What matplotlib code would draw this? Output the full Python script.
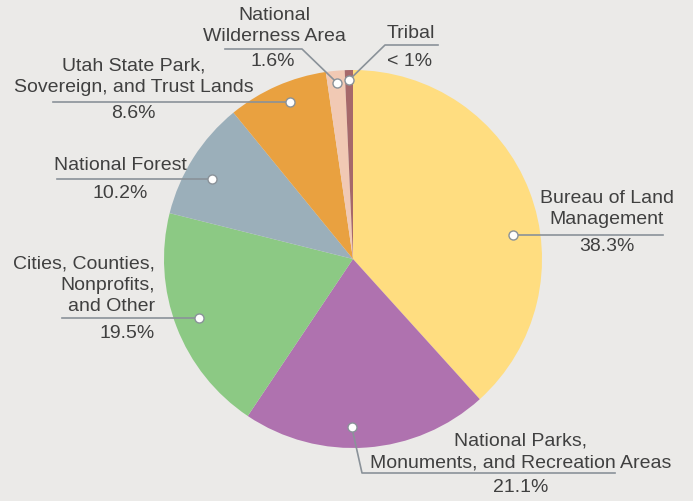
import numpy as np
import matplotlib.pyplot as plt

plt.rcParams['font.family'] = ['Liberation Sans', 'DejaVu Sans']

# data
owners = ['Bureau of Land\nManagement',
          'National Parks,\nMonuments, and Recreation Areas',
          'Cities, Counties,\nNonprofits,\nand Other',
          'National Forest',
          'Utah State Park,\nSovereign, and Trust Lands',
          'National\nWilderness Area',
          'Tribal']
shares = [38.3, 21.1, 19.5, 10.2, 8.6, 1.6, 0.7]
share_labels = ['38.3%', '21.1%', '19.5%', '10.2%', '8.6%', '1.6%', '< 1%']
colors = ['#FFDD80', '#AF72AF', '#8CC984', '#9BAFBA', '#E9A140', '#F1C9B4', '#A6686A']

W, H = 693, 502
bg = '#EBEAE8'
txt = '#404040'
lc = '#8A9299'

# layout (pixel coords from top): dot angle frac, dot radius frac, leader path, name xy, pct xy, align
layout = [
    (0.41, 0.857, [('h', 663)], (607, 209), (607, 247), 'center'),
    (0.44, 0.89, [(362, 474), ('h', 615)], (521, 452), (521, 488), 'center'),
    (0.50, 0.873, [('h', 62)], (155, 285), (155, 333), 'right'),
    (0.58, 0.857, [('h', 57)], (120, 165), (120, 193), 'center'),
    (0.44, 0.894, [('h', 53)], (134, 77), (133, 114), 'center'),
    (0.47, 0.937, [(302, 50), ('h', 225)], (274, 26), (273, 62), 'center'),
    (0.50, 0.947, [(385, 46), ('h', 438)], (411, 33), (410, 62), 'center'),
]

def fy(y):
    return H - y

fig = plt.figure(figsize=(W / 100, H / 100), dpi=100, facecolor=bg)
ax = fig.add_axes([0, 0, 1, 1])
ax.set_facecolor(bg)

cx, cy, R = 353, 260, 189
wedges, _ = ax.pie(shares, colors=colors, startangle=90, counterclock=False,
                   center=(cx, fy(cy)), radius=R, frame=True,
                   wedgeprops=dict(linewidth=0))

for w, name, pct, (af, rf, path, nxy, pxy, ha) in zip(wedges, owners, share_labels, layout):
    ang = np.deg2rad(w.theta1 + af * (w.theta2 - w.theta1))
    dx = cx + rf * R * np.cos(ang)
    dy = fy(cy) + rf * R * np.sin(ang)
    xs, ys = [dx], [dy]
    for p in path:
        if p[0] == 'h':
            xs.append(p[1])
            ys.append(ys[-1])
        else:
            xs.append(p[0])
            ys.append(fy(p[1]))
    ax.plot(xs, ys, color=lc, lw=1.2, zorder=3)
    ax.plot(dx, dy, 'o', ms=6.5, mfc='white', mec=lc, mew=1.0, zorder=4)
    ax.text(nxy[0], fy(nxy[1]), name, ha=ha, va='center', multialignment=ha,
            fontsize=14, color=txt, linespacing=1.33)
    ax.text(pxy[0], fy(pxy[1]), pct, ha=ha, va='center', fontsize=14, color=txt)

ax.set_xlim(0, W)
ax.set_ylim(0, H)
ax.axis('off')

fig.savefig('out.png', dpi=100, facecolor=bg)
